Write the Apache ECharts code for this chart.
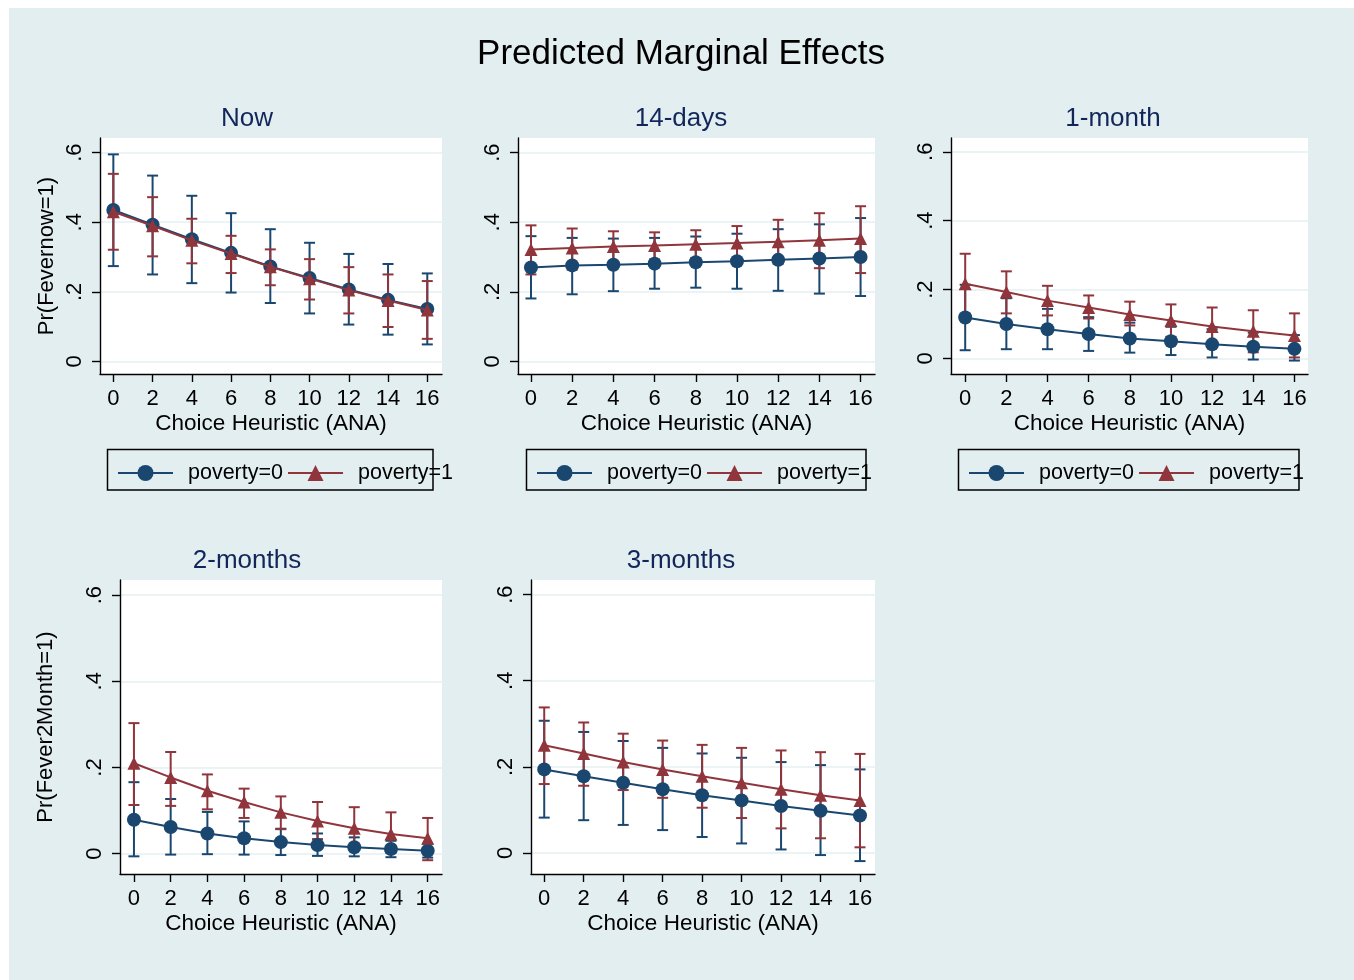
<!DOCTYPE html>
<html><head><meta charset="utf-8">
<script src="https://cdn.jsdelivr.net/npm/echarts@6/dist/echarts.min.js"></script>
<style>html,body{margin:0;padding:0;background:#fff}#c{width:1354px;height:980px}</style>
</head><body><div id="c"></div>
<script>
// ---------- data ----------
const mainTitle = 'Predicted Marginal Effects';
const panelTitles = ['Now', '14-days', '1-month', '2-months', '3-months'];
const yTitles = ['Pr(Fevernow=1)', '', '', 'Pr(Fever2Month=1)', ''];
const xAxisTitle = 'Choice Heuristic (ANA)';
const seriesNames = ['poverty=0', 'poverty=1'];
const xValues = [0, 2, 4, 6, 8, 10, 12, 14, 16];
const xTickValues = [0, 2, 4, 6, 8, 10, 12, 14, 16];
const yTickValues = [0, 0.2, 0.4, 0.6];
const yTickLabels = ['0', '.2', '.4', '.6'];

// Now
const now_p0    = [0.435, 0.393, 0.351, 0.312, 0.273, 0.240, 0.207, 0.177, 0.151];
const now_p0_lo = [0.274, 0.250, 0.225, 0.198, 0.168, 0.138, 0.106, 0.077, 0.049];
const now_p0_hi = [0.595, 0.534, 0.476, 0.426, 0.380, 0.341, 0.309, 0.280, 0.253];
const now_p1    = [0.430, 0.390, 0.348, 0.310, 0.272, 0.238, 0.205, 0.175, 0.148];
const now_p1_lo = [0.321, 0.302, 0.282, 0.254, 0.219, 0.178, 0.138, 0.099, 0.065];
const now_p1_hi = [0.539, 0.472, 0.410, 0.361, 0.322, 0.294, 0.271, 0.250, 0.231];
// 14-days
const d14_p0    = [0.270, 0.276, 0.278, 0.281, 0.285, 0.288, 0.292, 0.296, 0.300];
const d14_p0_lo = [0.181, 0.193, 0.202, 0.209, 0.212, 0.209, 0.203, 0.195, 0.188];
const d14_p0_hi = [0.360, 0.355, 0.353, 0.355, 0.359, 0.367, 0.380, 0.394, 0.412];
const d14_p1    = [0.322, 0.326, 0.330, 0.333, 0.337, 0.340, 0.344, 0.348, 0.353];
const d14_p1_lo = [0.250, 0.264, 0.278, 0.293, 0.297, 0.292, 0.281, 0.268, 0.254];
const d14_p1_hi = [0.391, 0.382, 0.374, 0.371, 0.377, 0.389, 0.407, 0.426, 0.446];
// 1-month
const m1_p0    = [0.119, 0.100, 0.085, 0.071, 0.058, 0.050, 0.041, 0.034, 0.028];
const m1_p0_lo = [0.024, 0.027, 0.027, 0.022, 0.017, 0.010, 0.003, -0.003, -0.006];
const m1_p0_hi = [0.214, 0.175, 0.144, 0.120, 0.104, 0.092, 0.085, 0.075, 0.068];
const m1_p1    = [0.217, 0.193, 0.168, 0.148, 0.128, 0.110, 0.093, 0.079, 0.067];
const m1_p1_lo = [0.130, 0.131, 0.125, 0.116, 0.096, 0.063, 0.038, 0.018, 0.003];
const m1_p1_hi = [0.304, 0.253, 0.211, 0.183, 0.165, 0.157, 0.148, 0.140, 0.131];
// 2-months
const m2_p0    = [0.079, 0.062, 0.047, 0.036, 0.027, 0.020, 0.015, 0.011, 0.007];
const m2_p0_lo = [-0.006, -0.002, -0.001, -0.002, -0.003, -0.005, -0.006, -0.008, -0.009];
const m2_p0_hi = [0.166, 0.127, 0.097, 0.075, 0.058, 0.047, 0.038, 0.030, 0.023];
const m2_p1    = [0.210, 0.177, 0.146, 0.120, 0.096, 0.076, 0.059, 0.046, 0.036];
const m2_p1_lo = [0.113, 0.111, 0.103, 0.083, 0.057, 0.034, 0.017, 0.002, -0.015];
const m2_p1_hi = [0.303, 0.236, 0.184, 0.151, 0.133, 0.120, 0.108, 0.096, 0.083];
// 3-months
const m3_p0    = [0.194, 0.178, 0.163, 0.148, 0.134, 0.122, 0.109, 0.098, 0.087];
const m3_p0_lo = [0.082, 0.076, 0.065, 0.053, 0.037, 0.022, 0.008, -0.005, -0.019];
const m3_p0_hi = [0.307, 0.281, 0.260, 0.244, 0.231, 0.221, 0.211, 0.204, 0.194];
const m3_p1    = [0.250, 0.231, 0.211, 0.194, 0.178, 0.163, 0.148, 0.134, 0.122];
const m3_p1_lo = [0.160, 0.156, 0.146, 0.128, 0.105, 0.081, 0.057, 0.034, 0.013];
const m3_p1_hi = [0.338, 0.303, 0.277, 0.261, 0.251, 0.244, 0.238, 0.234, 0.230];

const panelData = [
  [[now_p0, now_p0_lo, now_p0_hi], [now_p1, now_p1_lo, now_p1_hi]],
  [[d14_p0, d14_p0_lo, d14_p0_hi], [d14_p1, d14_p1_lo, d14_p1_hi]],
  [[m1_p0, m1_p0_lo, m1_p0_hi], [m1_p1, m1_p1_lo, m1_p1_hi]],
  [[m2_p0, m2_p0_lo, m2_p0_hi], [m2_p1, m2_p1_lo, m2_p1_hi]],
  [[m3_p0, m3_p0_lo, m3_p0_hi], [m3_p1, m3_p1_lo, m3_p1_hi]]
];

// ---------- layout & style ----------
const FONT = '"Liberation Sans", Arial, Helvetica, sans-serif';
const BG = '#e3eef0';
const GRIDC = '#e6eff1';
const colors = ['#1a476f', '#90353b'];
const symbols = ['circle', 'triangle'];
const symbolSizes = [14, 13];
const layout = [
  {left: 100, top: 138, width: 342, height: 236, xr: [-0.68, 16.75], yr: [-0.036, 0.642], tx: 247, ty: 106, nameGap: 42},
  {left: 518, top: 138, width: 357, height: 236, xr: [-0.63, 16.70], yr: [-0.036, 0.642], tx: 681, ty: 106, nameGap: 42},
  {left: 951, top: 138, width: 357, height: 236, xr: [-0.69, 16.66], yr: [-0.045, 0.640], tx: 1113, ty: 106, nameGap: 42},
  {left: 120, top: 580, width: 322, height: 294, xr: [-0.76, 16.78], yr: [-0.047, 0.635], tx: 247, ty: 548, nameGap: 63},
  {left: 531, top: 580, width: 344, height: 294, xr: [-0.67, 16.76], yr: [-0.049, 0.634], tx: 681, ty: 548, nameGap: 42}
];
const legendLayout = [
  {box: [107.5, 449.5, 325.5, 40.5], left: 117},
  {box: [526.5, 449.5, 339.5, 40.5], left: 536},
  {box: [958.5, 449.5, 340.5, 40.5], left: 968}
];

const grids = [], xAxes = [], yAxes = [], series = [], titles = [];
titles.push({text: mainTitle, left: 681, top: 37, textAlign: 'center', padding: 0,
  textStyle: {fontFamily: FONT, fontSize: 35, fontWeight: 'normal', color: '#000'}});

layout.forEach((L, i) => {
  grids.push({left: L.left, top: L.top, width: L.width, height: L.height, show: true,
    backgroundColor: '#ffffff', borderWidth: 0, containLabel: false});
  titles.push({text: panelTitles[i], left: L.tx, top: L.ty, textAlign: 'center', padding: 0,
    textStyle: {fontFamily: FONT, fontSize: 26, fontWeight: 'normal', color: '#12265a'}});
  xAxes.push({type: 'value', gridIndex: i, min: L.xr[0], max: L.xr[1],
    name: xAxisTitle, nameLocation: 'middle', nameGap: 38,
    nameTextStyle: {fontFamily: FONT, fontSize: 22.5, color: '#000'},
    axisLine: {show: true, onZero: false, lineStyle: {color: '#000', width: 1.4}},
    axisTick: {show: true, customValues: xTickValues, length: 8, lineStyle: {color: '#000', width: 1.4}},
    axisLabel: {customValues: xTickValues, fontFamily: FONT, fontSize: 22, color: '#000', margin: 14,
      formatter: v => String(Math.round(v))},
    splitLine: {show: false}});
  yAxes.push({type: 'value', gridIndex: i, min: L.yr[0], max: L.yr[1],
    name: yTitles[i], nameLocation: 'middle', nameGap: L.nameGap, nameRotate: 90,
    nameTextStyle: {fontFamily: FONT, fontSize: 22, color: '#000'},
    axisLine: {show: true, onZero: false, lineStyle: {color: '#000', width: 1.4}},
    axisTick: {show: true, customValues: yTickValues, length: 8, lineStyle: {color: '#000', width: 1.4}},
    axisLabel: {customValues: yTickValues, rotate: 90, fontFamily: FONT, fontSize: 22, color: '#000', margin: 14,
      formatter: v => { const k = yTickValues.findIndex(t => Math.abs(t - v) < 1e-9); return k >= 0 ? yTickLabels[k] : ''; }},
    splitLine: {show: true, lineStyle: {color: GRIDC, width: 1.5}}});

  const pd = panelData[i];
  // confidence intervals
  pd.forEach((s, j) => {
    const col = colors[j];
    series.push({type: 'custom', name: 'CI ' + seriesNames[j], xAxisIndex: i, yAxisIndex: i, z: 2 + j,
      encode: {x: 0, y: [1, 2]},
      data: xValues.map((x, k) => [x, s[1][k], s[2][k]]),
      renderItem: (params, api) => {
        const x = api.value(0);
        const p1 = api.coord([x, api.value(1)]);
        const p2 = api.coord([x, api.value(2)]);
        const w = 5.5;
        const st = {stroke: col, lineWidth: 2, fill: null};
        return {type: 'group', children: [
          {type: 'line', shape: {x1: p1[0], y1: p1[1], x2: p2[0], y2: p2[1]}, style: st},
          {type: 'line', shape: {x1: p1[0] - w, y1: p1[1], x2: p1[0] + w, y2: p1[1]}, style: st},
          {type: 'line', shape: {x1: p2[0] - w, y1: p2[1], x2: p2[0] + w, y2: p2[1]}, style: st}
        ]};
      }});
  });
  pd.forEach((s, j) => {
    series.push({type: 'line', name: seriesNames[j], xAxisIndex: i, yAxisIndex: i, z: 5 + j,
      data: xValues.map((x, k) => [x, s[0][k]]),
      symbol: symbols[j], symbolSize: symbolSizes[j], showSymbol: true,
      itemStyle: {color: colors[j]}, lineStyle: {color: colors[j], width: 2}});
  });
});

const legends = legendLayout.map(Lg => ({
  data: seriesNames, left: Lg.left, top: 462, orient: 'horizontal', padding: 0,
  itemWidth: 55, itemHeight: 20, itemGap: 4, selectedMode: false,
  textStyle: {fontFamily: FONT, fontSize: 21.5, color: '#000', padding: [0, 0, 0, 10]}
}));

const graphics = [
  {type: 'rect', left: 0, top: 0, shape: {width: 1354, height: 8}, style: {fill: '#fff'}, z: -1, silent: true},
  {type: 'rect', left: 0, top: 0, shape: {width: 9, height: 980}, style: {fill: '#fff'}, z: -1, silent: true}
];
legendLayout.forEach(Lg => {
  graphics.push({type: 'rect', shape: {x: Lg.box[0], y: Lg.box[1], width: Lg.box[2], height: Lg.box[3]},
    style: {fill: null, stroke: '#000', lineWidth: 1.5}, silent: true, z: 10});
});

const chart = echarts.init(document.getElementById('c'), null, {renderer: 'canvas'});
chart.setOption({
  animation: false,
  backgroundColor: BG,
  title: titles,
  grid: grids,
  xAxis: xAxes,
  yAxis: yAxes,
  legend: legends,
  series: series,
  graphic: graphics
});
</script></body></html>
